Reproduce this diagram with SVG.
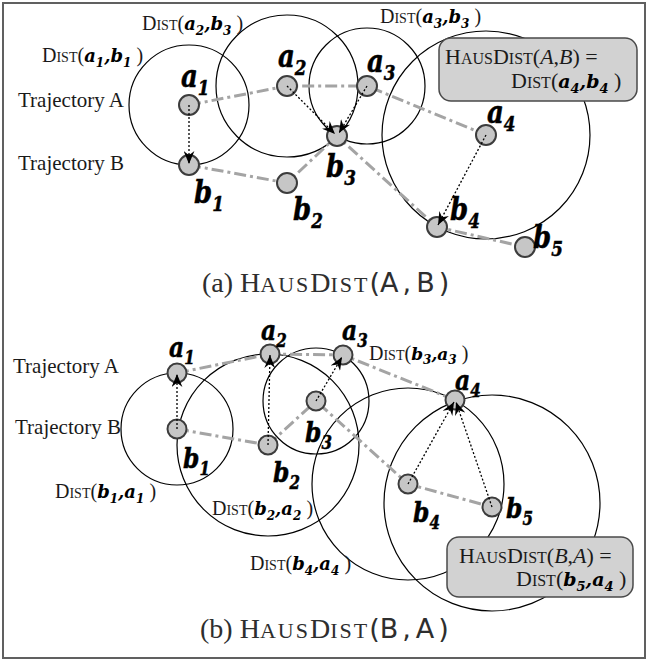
<svg xmlns="http://www.w3.org/2000/svg" width="647" height="660" viewBox="0 0 647 660">
  <defs>
    <marker id="head" viewBox="0 0 12 10" refX="12" refY="5" markerWidth="13" markerHeight="11" markerUnits="userSpaceOnUse" orient="auto">
      <path d="M0,0 L12,5 L0,10 L4,5 z" fill="#000"/>
    </marker>
    <style>
      .frame { fill:#fff; stroke:#606060; stroke-width:2; }
      .ring { fill:none; stroke:#000; stroke-width:1.2; }
      .traj { fill:none; stroke:#a4a4a4; stroke-width:3; stroke-dasharray:12 4 3 4; }
      .arrow { fill:none; stroke:#000; stroke-width:1.3; stroke-dasharray:2 2; marker-end:url(#head); }
      .pt { fill:#c6c6c6; stroke:#3c3c3c; stroke-width:2; }
      .ser { font-family:"Liberation Serif","Times New Roman",serif; fill:#1a1a1a; }
      .bi { font-family:"DejaVu Serif",serif; font-weight:bold; font-style:italic; fill:#000; }
      .na { font-size:31px; stroke:#000; stroke-width:0.5; }
      .nb { font-size:28px; stroke:#000; stroke-width:0.5; }
      .sans { font-family:"DejaVu Sans","Liberation Sans",sans-serif; }
      .box { fill:#d2d2d2; stroke:#4a4a4a; stroke-width:1.5; }
      .cap { fill:#2e2e2e; }
    </style>
  </defs>

  <rect class="frame" x="3" y="3" width="642" height="655"/>

  <!-- ===== Panel (a): HausDist(A,B) ===== -->
  <g id="a-rings">
    <circle class="ring" cx="189" cy="105" r="60"/>
    <circle class="ring" cx="287" cy="86" r="71"/>
    <circle class="ring" cx="367" cy="86" r="58"/>
    <circle class="ring" cx="486" cy="135" r="104"/>
  </g>

  <g id="a-connectors">
    <polyline class="traj" points="189,105 287,86 367,86 486,135"/>
    <polyline class="traj" points="189,165 287,183 337,136 437,227 525,247"/>
  </g>

  <g id="a-box">
    <rect class="box" x="439" y="38" width="198" height="63" rx="12"/>
    <text class="ser" x="445" y="64"><tspan font-size="22">H</tspan><tspan font-size="16">AUS</tspan><tspan font-size="22">D</tspan><tspan font-size="16">IST</tspan><tspan font-size="22">(</tspan><tspan font-size="22" font-style="italic">A</tspan><tspan font-size="22">,</tspan><tspan font-size="22" font-style="italic">B</tspan><tspan font-size="22">) =</tspan></text>
    <text class="ser" x="511" y="88"><tspan font-size="22">D</tspan><tspan font-size="16">IST</tspan><tspan font-size="22">(</tspan><tspan class="bi" font-size="19">a</tspan><tspan class="bi" font-size="13" dy="5">4</tspan><tspan class="bi" font-size="19" dy="-5">,</tspan><tspan class="bi" font-size="19">b</tspan><tspan class="bi" font-size="13" dy="5">4</tspan><tspan font-size="22" dy="-5"> )</tspan></text>
  </g>

  <!-- node labels are narrowed horizontally to get a condensed bold italic look -->
  <g id="a-node-a1"><circle class="pt" cx="189" cy="105" r="10"/><text class="bi na" transform="translate(181,87) scale(0.84,1)">a<tspan font-size="20" dy="8">1</tspan></text></g>
  <g id="a-node-a2"><circle class="pt" cx="287" cy="86" r="10"/><text class="bi na" transform="translate(278,67) scale(0.84,1)">a<tspan font-size="20" dy="8">2</tspan></text></g>
  <g id="a-node-a3"><circle class="pt" cx="367" cy="86" r="10"/><text class="bi na" transform="translate(367,72) scale(0.84,1)">a<tspan font-size="20" dy="8">3</tspan></text></g>
  <g id="a-node-a4"><circle class="pt" cx="486" cy="135" r="10"/><text class="bi na" transform="translate(487,123) scale(0.84,1)">a<tspan font-size="20" dy="8">4</tspan></text></g>
  <g id="a-node-b1"><circle class="pt" cx="189" cy="165" r="10"/><text class="bi na" transform="translate(194,203) scale(0.84,1)">b<tspan font-size="20" dy="8">1</tspan></text></g>
  <g id="a-node-b2"><circle class="pt" cx="287" cy="183" r="10"/><text class="bi na" transform="translate(293,220) scale(0.84,1)">b<tspan font-size="20" dy="8">2</tspan></text></g>
  <g id="a-node-b3"><circle class="pt" cx="337" cy="136" r="10"/><text class="bi na" transform="translate(326,177) scale(0.84,1)">b<tspan font-size="20" dy="8">3</tspan></text></g>
  <g id="a-node-b4"><circle class="pt" cx="437" cy="227" r="10"/><text class="bi na" transform="translate(450,220) scale(0.84,1)">b<tspan font-size="20" dy="8">4</tspan></text></g>
  <g id="a-node-b5"><circle class="pt" cx="525" cy="247" r="10"/><text class="bi na" transform="translate(533,248) scale(0.84,1)">b<tspan font-size="20" dy="8">5</tspan></text></g>

  <g id="a-arrows">
    <line class="arrow" x1="189" y1="105" x2="189" y2="164"/>
    <line class="arrow" x1="287" y1="86" x2="335" y2="134"/>
    <line class="arrow" x1="367" y1="86" x2="339" y2="133"/>
    <line class="arrow" x1="486" y1="135" x2="438" y2="225"/>
  </g>

  <g id="a-labels">
    <text class="ser" x="18" y="107" font-size="21">Trajectory A</text>
    <text class="ser" x="18" y="170" font-size="21">Trajectory B</text>
    <text class="ser" x="42" y="62"><tspan font-size="20">D</tspan><tspan font-size="14">IST</tspan><tspan font-size="20">(</tspan><tspan class="bi" font-size="18">a</tspan><tspan class="bi" font-size="12" dy="5">1</tspan><tspan class="bi" font-size="18" dy="-5">,</tspan><tspan class="bi" font-size="18">b</tspan><tspan class="bi" font-size="12" dy="5">1</tspan><tspan font-size="20" dy="-5"> )</tspan></text>
    <text class="ser" x="142" y="30"><tspan font-size="20">D</tspan><tspan font-size="14">IST</tspan><tspan font-size="20">(</tspan><tspan class="bi" font-size="18">a</tspan><tspan class="bi" font-size="12" dy="5">2</tspan><tspan class="bi" font-size="18" dy="-5">,</tspan><tspan class="bi" font-size="18">b</tspan><tspan class="bi" font-size="12" dy="5">3</tspan><tspan font-size="20" dy="-5"> )</tspan></text>
    <text class="ser" x="380" y="23"><tspan font-size="20">D</tspan><tspan font-size="14">IST</tspan><tspan font-size="20">(</tspan><tspan class="bi" font-size="18">a</tspan><tspan class="bi" font-size="12" dy="5">3</tspan><tspan class="bi" font-size="18" dy="-5">,</tspan><tspan class="bi" font-size="18">b</tspan><tspan class="bi" font-size="12" dy="5">3</tspan><tspan font-size="20" dy="-5"> )</tspan></text>
    <text class="ser cap" x="202" y="292"><tspan font-size="28">(a) H</tspan><tspan font-size="22" letter-spacing="2">AUS</tspan><tspan font-size="28">D</tspan><tspan font-size="22" letter-spacing="2">IST</tspan><tspan class="sans" font-size="27">(A</tspan><tspan class="sans" font-size="27" dx="4">,</tspan><tspan class="sans" font-size="27" dx="5">B</tspan><tspan class="sans" font-size="27" dx="4">)</tspan></text>
  </g>

  <!-- ===== Panel (b): HausDist(B,A) ===== -->
  <g id="b-rings">
    <circle class="ring" cx="177" cy="429" r="56"/>
    <circle class="ring" cx="268" cy="445" r="91"/>
    <circle class="ring" cx="316" cy="401" r="53"/>
    <circle class="ring" cx="408" cy="484" r="96"/>
    <circle class="ring" cx="492" cy="503" r="108"/>
  </g>

  <g id="b-connectors">
    <polyline class="traj" points="177,373 270,354 343,355 455,400"/>
    <polyline class="traj" points="177,429 268,445 316,401 408,484 492,507"/>
  </g>

  <g id="b-box">
    <rect class="box" x="447" y="537" width="186" height="60" rx="12"/>
    <text class="ser" x="459" y="563"><tspan font-size="22">H</tspan><tspan font-size="16">AUS</tspan><tspan font-size="22">D</tspan><tspan font-size="16">IST</tspan><tspan font-size="22">(</tspan><tspan font-size="22" font-style="italic">B</tspan><tspan font-size="22">,</tspan><tspan font-size="22" font-style="italic">A</tspan><tspan font-size="22">) =</tspan></text>
    <text class="ser" x="516" y="586"><tspan font-size="22">D</tspan><tspan font-size="16">IST</tspan><tspan font-size="22">(</tspan><tspan class="bi" font-size="19">b</tspan><tspan class="bi" font-size="13" dy="5">5</tspan><tspan class="bi" font-size="19" dy="-5">,</tspan><tspan class="bi" font-size="19">a</tspan><tspan class="bi" font-size="13" dy="5">4</tspan><tspan font-size="22" dy="-5"> )</tspan></text>
  </g>

  <g id="b-node-a1"><circle class="pt" cx="177" cy="373" r="9.5"/><text class="bi nb" transform="translate(169,357) scale(0.84,1)">a<tspan font-size="18" dy="7">1</tspan></text></g>
  <g id="b-node-a2"><circle class="pt" cx="270" cy="354" r="9.5"/><text class="bi nb" transform="translate(261,340) scale(0.84,1)">a<tspan font-size="18" dy="7">2</tspan></text></g>
  <g id="b-node-a3"><circle class="pt" cx="343" cy="355" r="9.5"/><text class="bi nb" transform="translate(342,340) scale(0.84,1)">a<tspan font-size="18" dy="7">3</tspan></text></g>
  <g id="b-node-a4"><circle class="pt" cx="455" cy="400" r="9.5"/><text class="bi nb" transform="translate(455,390) scale(0.84,1)">a<tspan font-size="18" dy="7">4</tspan></text></g>
  <g id="b-node-b1"><circle class="pt" cx="177" cy="429" r="9.5"/><text class="bi nb" transform="translate(183,468) scale(0.84,1)">b<tspan font-size="18" dy="7">1</tspan></text></g>
  <g id="b-node-b2"><circle class="pt" cx="268" cy="445" r="9.5"/><text class="bi nb" transform="translate(273,482) scale(0.84,1)">b<tspan font-size="18" dy="7">2</tspan></text></g>
  <g id="b-node-b3"><circle class="pt" cx="316" cy="401" r="9.5"/><text class="bi nb" transform="translate(305,442) scale(0.84,1)">b<tspan font-size="18" dy="7">3</tspan></text></g>
  <g id="b-node-b4"><circle class="pt" cx="408" cy="484" r="9.5"/><text class="bi nb" transform="translate(413,522) scale(0.84,1)">b<tspan font-size="18" dy="7">4</tspan></text></g>
  <g id="b-node-b5"><circle class="pt" cx="492" cy="507" r="9.5"/><text class="bi nb" transform="translate(506,518) scale(0.84,1)">b<tspan font-size="18" dy="7">5</tspan></text></g>

  <g id="b-arrows">
    <line class="arrow" x1="177" y1="429" x2="177" y2="374"/>
    <line class="arrow" x1="268" y1="445" x2="270" y2="355"/>
    <line class="arrow" x1="316" y1="401" x2="342" y2="357"/>
    <line class="arrow" x1="408" y1="484" x2="454" y2="402"/>
    <line class="arrow" x1="492" y1="507" x2="456" y2="402"/>
  </g>

  <g id="b-labels">
    <text class="ser" x="13" y="373" font-size="21">Trajectory A</text>
    <text class="ser" x="15" y="434" font-size="21">Trajectory B</text>
    <text class="ser" x="369" y="360"><tspan font-size="20">D</tspan><tspan font-size="14">IST</tspan><tspan font-size="20">(</tspan><tspan class="bi" font-size="17">b</tspan><tspan class="bi" font-size="12" dy="4">3</tspan><tspan class="bi" font-size="17" dy="-4">,</tspan><tspan class="bi" font-size="17">a</tspan><tspan class="bi" font-size="12" dy="4">3</tspan><tspan font-size="20" dy="-4"> )</tspan></text>
    <text class="ser" x="55" y="498"><tspan font-size="20">D</tspan><tspan font-size="14">IST</tspan><tspan font-size="20">(</tspan><tspan class="bi" font-size="18">b</tspan><tspan class="bi" font-size="12" dy="5">1</tspan><tspan class="bi" font-size="18" dy="-5">,</tspan><tspan class="bi" font-size="18">a</tspan><tspan class="bi" font-size="12" dy="5">1</tspan><tspan font-size="20" dy="-5"> )</tspan></text>
    <text class="ser" x="212" y="515"><tspan font-size="20">D</tspan><tspan font-size="14">IST</tspan><tspan font-size="20">(</tspan><tspan class="bi" font-size="18">b</tspan><tspan class="bi" font-size="12" dy="5">2</tspan><tspan class="bi" font-size="18" dy="-5">,</tspan><tspan class="bi" font-size="18">a</tspan><tspan class="bi" font-size="12" dy="5">2</tspan><tspan font-size="20" dy="-5"> )</tspan></text>
    <text class="ser" x="250" y="570"><tspan font-size="20">D</tspan><tspan font-size="14">IST</tspan><tspan font-size="20">(</tspan><tspan class="bi" font-size="18">b</tspan><tspan class="bi" font-size="12" dy="5">4</tspan><tspan class="bi" font-size="18" dy="-5">,</tspan><tspan class="bi" font-size="18">a</tspan><tspan class="bi" font-size="12" dy="5">4</tspan><tspan font-size="20" dy="-5"> )</tspan></text>
    <text class="ser cap" x="200" y="638"><tspan font-size="28">(b) H</tspan><tspan font-size="22" letter-spacing="2">AUS</tspan><tspan font-size="28">D</tspan><tspan font-size="22" letter-spacing="2">IST</tspan><tspan class="sans" font-size="27">(B</tspan><tspan class="sans" font-size="27" dx="4">,</tspan><tspan class="sans" font-size="27" dx="5">A</tspan><tspan class="sans" font-size="27" dx="4">)</tspan></text>
  </g>
</svg>
